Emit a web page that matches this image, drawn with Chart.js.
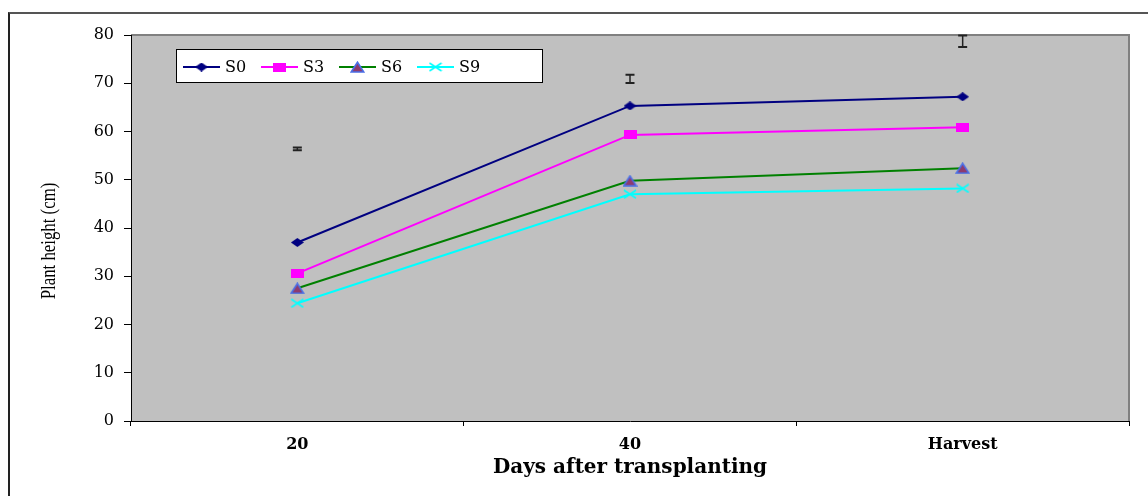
<!DOCTYPE html>
<html>
<head>
<meta charset="utf-8">
<script src="https://cdn.jsdelivr.net/npm/chart.js@4.4.1/dist/chart.umd.min.js"></script>
<style>
  html, body { margin: 0; padding: 0; background: #ffffff; }
  #wrap { position: relative; width: 1148px; height: 496px; overflow: hidden; }
  #frame { position: absolute; left: 8px; top: 12px; width: 1200px; height: 600px;
           border-left: 2px solid #222; border-top: 2px solid #555; box-sizing: border-box; }
  canvas { position: absolute; left: 0; top: 0; }
</style>
</head>
<body>
<div id="wrap">
  <div id="frame"></div>
  <canvas id="c" width="1148" height="496"></canvas>
</div>
<script>
// ---- data ----
const categories = ['20', '40', 'Harvest'];
const seriesNames = ['S0', 'S3', 'S6', 'S9'];
const s0 = [37.0, 65.3, 67.2];
const s3 = [30.6, 59.3, 60.9];
const s6 = [27.5, 49.8, 52.4];
const s9 = [24.4, 47.0, 48.2];
const errCenter = [56.4, 70.9, 78.7];
const errHalf = [0.3, 0.85, 1.2];
const yTicks = [0, 10, 20, 30, 40, 50, 60, 70, 80];
const yTitle = 'Plant height (cm)';
const xTitle = 'Days after transplanting';

// ---- marker images ----
function mk(w, h, draw) {
  const c = document.createElement('canvas');
  c.width = w; c.height = h;
  draw(c.getContext('2d'));
  return c;
}
const diamond = mk(13, 9, g => {
  g.fillStyle = '#000080';
  g.beginPath(); g.moveTo(0, 4.5); g.lineTo(6.5, 0); g.lineTo(13, 4.5); g.lineTo(6.5, 9); g.closePath(); g.fill();
});
const square = mk(13, 9, g => { g.fillStyle = '#ff00ff'; g.fillRect(0, 0, 13, 9); });
const tri = mk(15, 12, g => {
  g.beginPath(); g.moveTo(1.2, 11); g.lineTo(7.5, 1.2); g.lineTo(13.8, 11); g.closePath();
  g.fillStyle = '#8e3b6e'; g.fill();
  g.strokeStyle = '#4a6ee6'; g.lineWidth = 1.6; g.stroke();
});
const cross = mk(14, 10, g => {
  g.strokeStyle = '#00ffff'; g.lineWidth = 1.6;
  g.beginPath(); g.moveTo(1, 1); g.lineTo(13, 9); g.moveTo(1, 9); g.lineTo(13, 1); g.stroke();
});

const colors = ['#000080', '#ff00ff', '#008000', '#00ffff'];
const markers = [diamond, square, tri, cross];
const values = [s0, s3, s6, s9];

const datasets = seriesNames.map((n, i) => ({
  label: n,
  data: values[i],
  borderColor: colors[i],
  backgroundColor: colors[i],
  borderWidth: 2,
  pointStyle: markers[i],
  pointRadius: 6,
  tension: 0,
  fill: false
}));

const plotBg = {
  id: 'plotBg',
  beforeDraw(chart) {
    const { ctx, chartArea: a } = chart;
    ctx.save();
    ctx.fillStyle = '#c0c0c0';
    ctx.fillRect(a.left, a.top, a.right - a.left, a.bottom - a.top);
    ctx.strokeStyle = '#808080';
    ctx.lineWidth = 2;
    ctx.beginPath();
    ctx.moveTo(a.left, a.top); ctx.lineTo(a.right, a.top); ctx.lineTo(a.right, a.bottom);
    ctx.stroke();
    ctx.restore();
  }
};

const errBars = {
  id: 'errBars',
  afterDatasetsDraw(chart) {
    const { ctx, scales: { x, y } } = chart;
    ctx.save();
    ctx.strokeStyle = '#222';
    errCenter.forEach((c, i) => {
      const px = x.getPixelForValue(i);
      const y1 = y.getPixelForValue(c + errHalf[i]);
      const y2 = y.getPixelForValue(c - errHalf[i]);
      ctx.lineWidth = 1.5;
      ctx.beginPath();
      ctx.moveTo(px, y1); ctx.lineTo(px, y2);
      ctx.stroke();
      ctx.lineWidth = 2;
      ctx.beginPath();
      ctx.moveTo(px - 4.5, y1); ctx.lineTo(px + 4.5, y1);
      ctx.moveTo(px - 4.5, y2); ctx.lineTo(px + 4.5, y2);
      ctx.stroke();
    });
    ctx.restore();
  }
};

const boxLegend = {
  id: 'boxLegend',
  afterDraw(chart) {
    const { ctx } = chart;
    ctx.save();
    ctx.fillStyle = '#ffffff';
    ctx.fillRect(176, 49, 367, 34);
    ctx.strokeStyle = '#000';
    ctx.lineWidth = 1;
    ctx.strokeRect(176.5, 49.5, 366, 33);
    ctx.font = '16px "DejaVu Serif"';
    ctx.textBaseline = 'middle';
    ctx.textAlign = 'left';
    chart.data.datasets.forEach((ds, i) => {
      const x0 = 183 + i * 78, yy = 67;
      ctx.strokeStyle = ds.borderColor;
      ctx.lineWidth = 2;
      ctx.beginPath(); ctx.moveTo(x0, yy); ctx.lineTo(x0 + 37, yy); ctx.stroke();
      const m = ds.pointStyle;
      ctx.drawImage(m, x0 + 18.5 - m.width / 2, yy - m.height / 2);
      ctx.fillStyle = '#000';
      ctx.fillText(ds.label, x0 + 42, yy + 1);
    });
    // y-axis title (condensed serif)
    ctx.translate(50, 241);
    ctx.rotate(-Math.PI / 2);
    ctx.scale(0.84, 1);
    ctx.textAlign = 'center';
    ctx.font = '20px "Liberation Serif"';
    ctx.fillText(yTitle, 0, 0);
    ctx.restore();
  }
};

new Chart(document.getElementById('c'), {
  type: 'line',
  data: { labels: categories, datasets },
  options: {
    responsive: false,
    animation: false,
    events: [],
    layout: { padding: { left: 0, top: 35, right: 19, bottom: 0 } },
    plugins: { legend: { display: false }, tooltip: { enabled: false } },
    scales: {
      x: {
        offset: true,
        grid: { offset: true, drawOnChartArea: false, color: '#000', tickLength: 5, tickColor: '#000' },
        border: { color: '#000', width: 1 },
        ticks: { color: '#000', font: { family: 'DejaVu Serif', size: 16, weight: 'bold' }, padding: 9, maxRotation: 0 },
        title: { display: true, text: xTitle, color: '#000', font: { family: 'DejaVu Serif', size: 20, weight: 'bold' }, padding: { top: 0, bottom: 16 } },
        afterFit(s) { s.height = 75; }
      },
      y: {
        min: 0, max: 80,
        afterBuildTicks(s) { s.ticks = yTicks.map(v => ({ value: v })); },
        grid: { drawOnChartArea: false, color: '#000', tickLength: 7, tickColor: '#000' },
        border: { color: '#000', width: 1 },
        ticks: { color: '#000', font: { family: 'DejaVu Serif', size: 16 }, padding: 10 },
        afterFit(s) { s.width = 131; }
      }
    }
  },
  plugins: [plotBg, errBars, boxLegend]
});
</script>
</body>
</html>
